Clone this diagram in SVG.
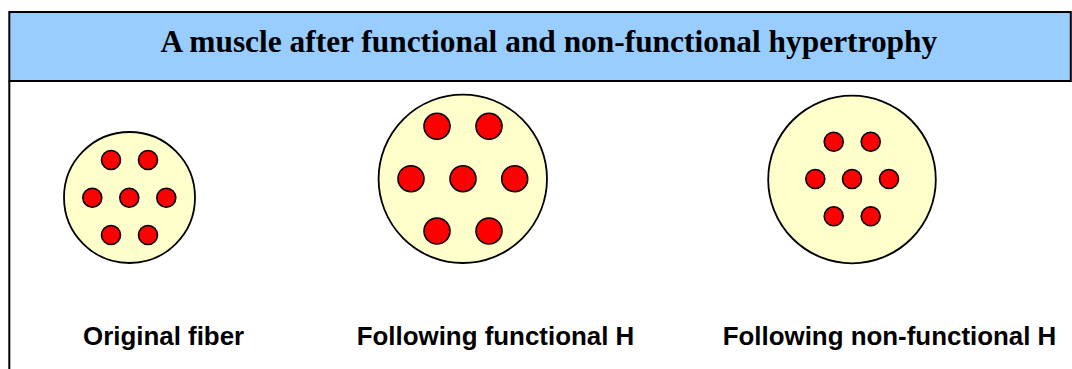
<svg xmlns="http://www.w3.org/2000/svg" width="1072" height="369" viewBox="0 0 1072 369">
<style>
.frame{fill:none;stroke:#000;stroke-width:2}
.fiber{fill:#FFFFCC;stroke:#000;stroke-width:1.8}
.dot{fill:#FF0000;stroke:#000;stroke-width:1.6}
.title{font-family:"Liberation Serif","Times New Roman",serif;font-weight:bold;font-size:31.4px;fill:#000}
.label{font-family:"Liberation Sans",Arial,sans-serif;font-weight:bold;font-size:25.9px;fill:#000}
</style>
<rect width="1072" height="369" fill="#fff"/>
<g id="title-bar">
<rect x="9.3" y="12" width="1061.5" height="69" fill="#99CCFF" stroke="#000" stroke-width="2"/>
<text class="title" x="160.5" y="52">A muscle after functional and non-functional hypertrophy</text>
</g>
<g id="frame-left">
<line class="frame" x1="9.3" y1="81" x2="9.3" y2="369"/>
</g>
<g id="original-fiber">
<circle class="fiber" cx="129.5" cy="197.5" r="65.5"/>
<circle class="dot" cx="111" cy="160" r="9.5"/>
<circle class="dot" cx="148" cy="160" r="9.5"/>
<circle class="dot" cx="92.3" cy="197.7" r="9.5"/>
<circle class="dot" cx="129.3" cy="197.7" r="9.5"/>
<circle class="dot" cx="166.3" cy="197.7" r="9.5"/>
<circle class="dot" cx="111" cy="235" r="9.5"/>
<circle class="dot" cx="148" cy="235" r="9.5"/>
<text class="label" x="83" y="345">Original fiber</text>
</g>
<g id="functional-h">
<circle class="fiber" cx="462.8" cy="178.8" r="84.2"/>
<circle class="dot" cx="437" cy="126.3" r="13"/>
<circle class="dot" cx="489" cy="126.3" r="13"/>
<circle class="dot" cx="411" cy="178.7" r="13"/>
<circle class="dot" cx="463" cy="178.7" r="13"/>
<circle class="dot" cx="514.7" cy="178.7" r="13"/>
<circle class="dot" cx="437" cy="231" r="13"/>
<circle class="dot" cx="489" cy="231" r="13"/>
<text class="label" x="356.7" y="345">Following functional H</text>
</g>
<g id="non-functional-h">
<circle class="fiber" cx="852" cy="179.5" r="83.8"/>
<circle class="dot" cx="833.7" cy="141.7" r="9.5"/>
<circle class="dot" cx="870.7" cy="141.7" r="9.5"/>
<circle class="dot" cx="815.3" cy="179" r="9.5"/>
<circle class="dot" cx="852" cy="179" r="9.5"/>
<circle class="dot" cx="889" cy="179" r="9.5"/>
<circle class="dot" cx="833.7" cy="216.3" r="9.5"/>
<circle class="dot" cx="870.7" cy="216.3" r="9.5"/>
<text class="label" x="722.7" y="345">Following non-functional H</text>
</g>
<g id="connectors"></g>
</svg>
